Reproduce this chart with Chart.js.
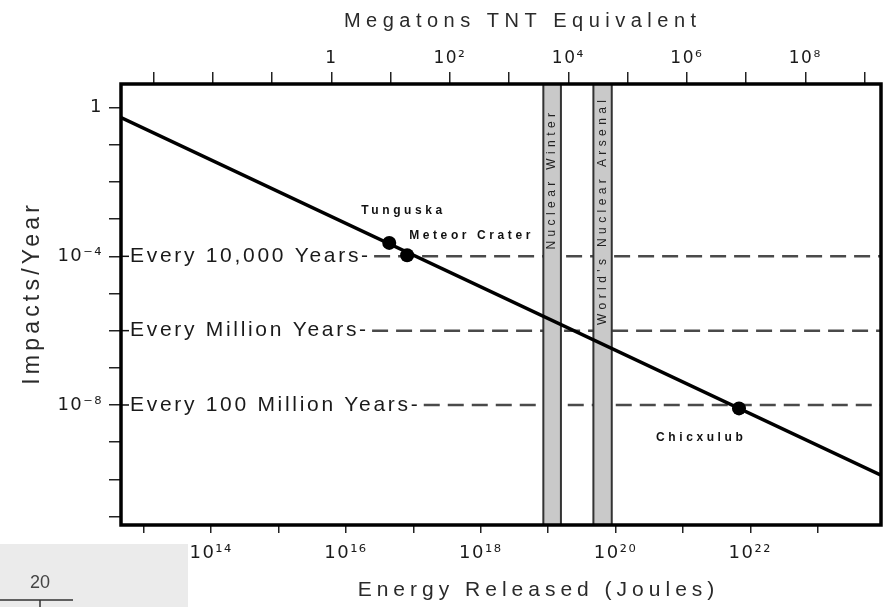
<!DOCTYPE html>
<html>
<head>
<meta charset="utf-8">
<script src="https://cdn.jsdelivr.net/npm/chart.js@4.4.1/dist/chart.umd.min.js"></script>
<style>
html, body { margin: 0; padding: 0; background: #fff; }
#wrap { width: 888px; height: 607px; position: relative; }
</style>
</head>
<body>
<div id="wrap"><canvas id="chartImpactos"></canvas></div>
<script>
// impact rate vs energy
const lineEnergy = [4.6e12, 8.7e23];
const lineRate = [0.54, 1.3e-10];

const eventNames = ['Tunguska', 'Meteor Crater', 'Chicxulub'];
const eventEnergy = [4.4e16, 8.1e16, 6.8e21];
const eventRate = [2.3e-4, 1.07e-4, 8.1e-9];

const recurrenceNames = ['Every 10,000 Years', 'Every Million Years', 'Every 100 Million Years'];
const recurrenceRate = [1e-4, 1e-6, 1e-8];

const bandNames = ['Nuclear Winter', "World's Nuclear Arsenal"];
const bandFrom = [8.5e18, 4.7e19];
const bandTo = [1.55e19, 8.8e19];

const joulesExp = [14, 16, 18, 20, 22];
const joulesLabels = ['10¹⁴', '10¹⁶', '10¹⁸', '10²⁰', '10²²'];
const megatonExp = [0, 2, 4, 6, 8];
const megatonLabels = ['1', '10²', '10⁴', '10⁶', '10⁸'];
const rateExp = [0, -4, -8];
const rateLabels = ['1', '10⁻⁴', '10⁻⁸'];

const fam = '"Liberation Sans", Arial, sans-serif';
const tickFam = '"DejaVu Sans", sans-serif';
const ink = '#1a1a1a';

function decadeTicks(scale) {
    const lo = Math.ceil(Math.log10(scale.min) - 1e-9);
    const hi = Math.floor(Math.log10(scale.max) + 1e-9);
    const t = [];
    for (let e = lo; e <= hi; e++) t.push({ value: Math.pow(10, e) });
    scale.ticks = t;
}

function labelFrom(exps, labels) {
    return function (value) {
        const i = exps.indexOf(Math.round(Math.log10(value)));
        return i >= 0 ? labels[i] : '';
    };
}

// text with letter spacing, centred or left aligned, optional rotation
function spacedText(ctx, text, x, y, font, ls, align, rot) {
    ctx.save();
    ctx.font = font;
    ctx.letterSpacing = ls + 'px';
    ctx.translate(x, y);
    if (rot) ctx.rotate(rot);
    const w = ctx.measureText(text).width - ls;
    let x0 = 0;
    if (align === 'center') x0 = -w / 2;
    if (align === 'right') x0 = -w;
    ctx.textAlign = 'left';
    ctx.textBaseline = 'middle';
    ctx.fillText(text, x0, 0);
    ctx.restore();
    return w;
}

const extras = {
    id: 'extras',
    beforeDraw(chart) {
        chart.ctx.letterSpacing = '1.5px';
    },
    beforeDatasetsDraw(chart) {
        const ctx = chart.ctx, a = chart.chartArea;
        const xs = chart.scales.x, ys = chart.scales.y;
        ctx.save();
        // recurrence labels + dashed lines
        recurrenceNames.forEach((name, i) => {
            const py = ys.getPixelForValue(recurrenceRate[i]);
            ctx.fillStyle = ink;
            const w = spacedText(ctx, name + '-', a.left + 9, py, '21px ' + fam, 2.7, 'left');
            ctx.strokeStyle = '#111';
            ctx.lineWidth = 1.5;
            ctx.setLineDash([]);
            ctx.beginPath();
            ctx.moveTo(a.left, py);
            ctx.lineTo(a.left + 8, py);
            ctx.stroke();
            ctx.strokeStyle = '#4a4a4a';
            ctx.lineWidth = 2.5;
            ctx.setLineDash([16, 8]);
            ctx.beginPath();
            ctx.moveTo(a.left + 9 + w + 6, py);
            ctx.lineTo(a.right, py);
            ctx.stroke();
        });
        ctx.setLineDash([]);
        // gray bands
        const labelTop = [29, 16];
        bandNames.forEach((name, i) => {
            const x0 = xs.getPixelForValue(bandFrom[i]);
            const x1 = xs.getPixelForValue(bandTo[i]);
            ctx.fillStyle = '#c9c9c9';
            ctx.fillRect(x0, a.top, x1 - x0, a.bottom - a.top);
            ctx.strokeStyle = '#333';
            ctx.lineWidth = 2;
            ctx.strokeRect(x0, a.top, x1 - x0, a.bottom - a.top);
            ctx.fillStyle = '#222';
            spacedText(ctx, name, (x0 + x1) / 2, a.top + labelTop[i], '12px ' + fam, 4.4, 'right', -Math.PI / 2);
        });
        ctx.restore();
    },
    afterDatasetsDraw(chart) {
        const ctx = chart.ctx, a = chart.chartArea;
        const xs = chart.scales.x, ys = chart.scales.y;
        ctx.save();
        const off = [[-28, -32], [2, -20], [-83, 29]];
        eventNames.forEach((name, i) => {
            const px = xs.getPixelForValue(eventEnergy[i]);
            const py = ys.getPixelForValue(eventRate[i]);
            ctx.fillStyle = '#111';
            spacedText(ctx, name, px + off[i][0], py + off[i][1], 'bold 12px ' + fam, 3.6, 'left');
        });
        // frame
        ctx.strokeStyle = '#000';
        ctx.lineWidth = 3.5;
        ctx.strokeRect(a.left, a.top, a.right - a.left, a.bottom - a.top);
        // axis titles
        ctx.fillStyle = '#2a2a2a';
        spacedText(ctx, 'Megatons TNT Equivalent', 520, 21, '20px ' + fam, 5.5, 'center');
        spacedText(ctx, 'Energy Released (Joules)', 536, 590, '21px ' + fam, 5, 'center');
        spacedText(ctx, 'Impacts/Year', 33, 295, '23px ' + fam, 4.2, 'center', -Math.PI / 2);
        ctx.restore();
    },
    afterDraw(chart) {
        // scanned page scrap in the lower left corner
        const ctx = chart.ctx;
        ctx.save();
        ctx.fillStyle = '#ebebeb';
        ctx.fillRect(0, 544, 188, 63);
        ctx.fillStyle = '#444';
        spacedText(ctx, '20', 40, 583, '18px ' + fam, 0, 'center');
        ctx.strokeStyle = '#333';
        ctx.lineWidth = 1.5;
        ctx.beginPath();
        ctx.moveTo(0, 600);
        ctx.lineTo(73, 600);
        ctx.moveTo(40, 600);
        ctx.lineTo(40, 607);
        ctx.stroke();
        ctx.restore();
    }
};

const ctxImpactos = document.getElementById('chartImpactos').getContext('2d');
const chart1 = new Chart(ctxImpactos, {
    type: 'scatter',
    data: {
        datasets: [{
            label: 'Impact rate',
            data: lineEnergy.map((x, i) => ({ x: x, y: lineRate[i] })),
            showLine: true,
            borderColor: '#000',
            borderWidth: 3.5,
            pointRadius: 0,
            xAxisID: 'x',
            yAxisID: 'y'
        }, {
            label: 'Events',
            data: eventEnergy.map((x, i) => ({ x: x, y: eventRate[i] })),
            backgroundColor: '#000',
            borderWidth: 0,
            pointRadius: 7,
            xAxisID: 'x',
            yAxisID: 'y'
        }]
    },
    options: {
        responsive: true,
        maintainAspectRatio: false,
        animation: false,
        layout: { padding: { right: 2 } },
        plugins: {
            legend: { display: false },
            tooltip: { enabled: false }
        },
        scales: {
            x: {
                type: 'logarithmic',
                position: 'bottom',
                min: 4.6e12,
                max: 8.7e23,
                border: { display: false },
                grid: { drawOnChartArea: false, tickLength: 8, color: '#222', lineWidth: 1.5 },
                ticks: { autoSkip: false, maxRotation: 0, padding: 10, color: ink, font: { size: 18, family: tickFam }, callback: labelFrom(joulesExp, joulesLabels) },
                afterBuildTicks: decadeTicks,
                afterFit: s => { s.height = 82; }
            },
            x2: {
                type: 'logarithmic',
                position: 'top',
                min: 2.8e-4,
                max: 1.9e9,
                border: { display: false },
                grid: { drawOnChartArea: false, tickLength: 12, color: '#222', lineWidth: 1.5 },
                ticks: { autoSkip: false, maxRotation: 0, padding: 3, color: ink, font: { size: 17, family: tickFam }, callback: labelFrom(megatonExp, megatonLabels) },
                afterBuildTicks: decadeTicks,
                afterFit: s => { s.height = 84; }
            },
            y: {
                type: 'logarithmic',
                position: 'left',
                min: 5.9e-12,
                max: 4.33,
                border: { display: false },
                grid: { drawOnChartArea: false, tickLength: 12, color: '#222', lineWidth: 1.5 },
                ticks: { autoSkip: false, padding: 6, color: ink, font: { size: 18, family: tickFam }, callback: labelFrom(rateExp, rateLabels) },
                afterBuildTicks: decadeTicks,
                afterFit: s => { s.width = 121; }
            }
        }
    },
    plugins: [extras]
});
</script>
</body>
</html>
